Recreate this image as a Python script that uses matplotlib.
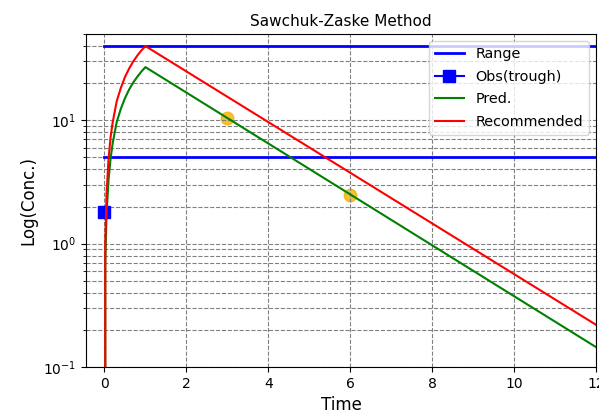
import matplotlib
matplotlib.use("Agg")
import matplotlib.pyplot as plt

# target range (upper / lower), drawn across the whole dosing interval
range_t = [0, 12]
range_hi = [40, 40]
range_lo = [5, 5]

# observed trough level
obs_t = [0]
obs_c = [1.8]

# measured levels used for the fit
lvl_t = [3, 6]
lvl_c = [10.5, 2.5]

# curves (infusion up to t=1, then decay)
curve_t = [0, 0.02, 0.05, 0.1, 0.15, 0.2, 0.3, 0.4, 0.5, 0.6, 0.7, 0.8, 0.9, 1.0, 12]
pred_c = [0, 0.68, 1.7, 3.3, 4.9, 6.5, 9.7, 12.4, 15.1, 17.7, 20.2, 22.5, 24.8, 27, 0.145]
rec_c = [0, 1.0, 2.5, 4.9, 7.3, 9.6, 14.3, 18.3, 22.4, 26.2, 29.9, 33.4, 36.8, 40, 0.22]

fig = plt.figure(figsize=(5.99, 4.16), dpi=100)
ax = fig.add_axes([0.1436, 0.1178, 0.8514, 0.8002])

ax.plot(lvl_t, lvl_c, "o", color="#f5b000", alpha=0.8, markersize=9, zorder=1)
ax.plot(range_t, range_hi, color="blue", linewidth=2, label="Range")
ax.plot(range_t, range_lo, color="blue", linewidth=2)
ax.plot(obs_t, obs_c, "s-", color="blue", markersize=9, label="Obs(trough)")
ax.plot(curve_t, pred_c, color="green", linewidth=1.5, label="Pred.")
ax.plot(curve_t, rec_c, color="red", linewidth=1.5, label="Recommended")

ax.set_yscale("log")
ax.set_xlim(-0.45, 12)
ax.set_ylim(0.1, 50)
ax.grid(True, which="both", linestyle="--", color="gray", linewidth=0.8)

ax.set_title("Sawchuk-Zaske Method", fontsize=11)
ax.set_xlabel("Time", fontsize=12)
ax.set_ylabel("Log(Conc.)", fontsize=12)
ax.legend(loc="upper right", fontsize=10.4, labelspacing=0.6)

fig.savefig("out.png", dpi=100)
